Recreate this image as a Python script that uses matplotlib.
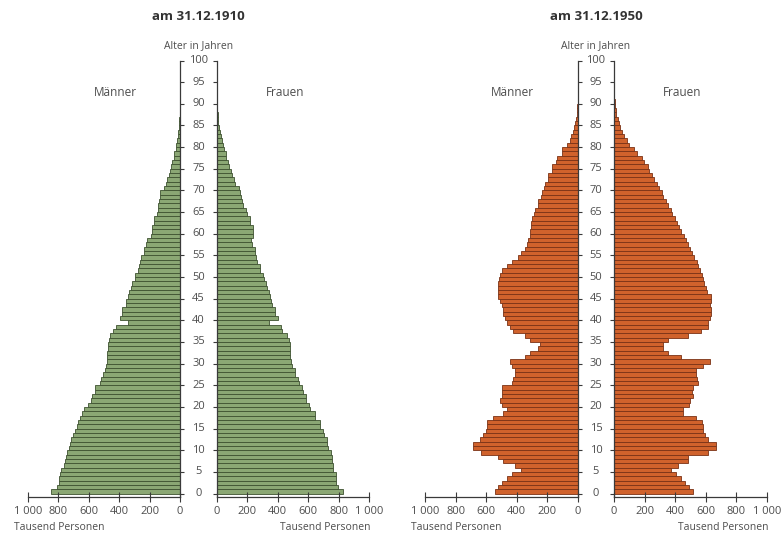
import matplotlib
matplotlib.use("Agg")
import matplotlib.pyplot as plt
import numpy as np

plt.rcParams['font.family'] = ['Open Sans', 'DejaVu Sans']

# Alter 0..100, Tausend Personen
ages = np.arange(0, 101)

m1910 = [850, 810, 798, 795, 790, 780, 762, 757, 752, 745,
         728, 724, 720, 702, 690, 678, 672, 655, 648, 632,
         603, 585, 578, 562, 556, 528, 522, 509, 495, 490,
         480, 478, 478, 476, 474, 466, 462, 440, 420, 340,
         395, 384, 380, 358, 352, 342, 338, 320, 316, 298,
         294, 276, 272, 261, 256, 240, 234, 222, 216, 190,
         186, 182, 172, 168, 152, 148, 143, 140, 133, 130,
         105, 92, 86, 72, 68, 56, 52, 41, 37, 28,
         24, 18, 14, 10, 7.5, 5.5, 4, 3, 2, 1.5,
         1, 0.6, 0.4, 0.3, 0.2, 0.1, 0.1, 0, 0, 0, 0]

f1910 = [827, 798, 786, 783, 780, 766, 762, 756, 754, 750,
         728, 726, 722, 702, 698, 680, 676, 648, 642, 614,
         608, 588, 584, 566, 560, 537, 532, 515, 510, 493,
         488, 482, 480, 480, 478, 476, 458, 428, 422, 345,
         404, 384, 380, 362, 358, 346, 342, 328, 325, 307,
         302, 285, 280, 263, 258, 252, 248, 230, 226, 236,
         240, 236, 218, 214, 196, 192, 170, 166, 157, 154,
         147, 120, 115, 97, 94, 76, 73, 60, 56, 43,
         40, 32, 24, 18, 13, 9, 6.5, 4.5, 3, 2,
         1.3, 0.9, 0.6, 0.4, 0.3, 0.2, 0.1, 0.1, 0, 0, 0]

m1950 = [544, 526, 496, 467, 434, 373, 412, 489, 522, 632,
         687, 687, 643, 621, 600, 598, 596, 555, 489, 467,
         496, 511, 498, 496, 494, 434, 423, 412, 412, 434,
         445, 347, 314, 259, 248, 314, 347, 423, 445, 467,
         478, 489, 489, 500, 511, 522, 524, 524, 522, 514,
         511, 496, 467, 434, 391, 370, 345, 332, 328, 316,
         314, 306, 304, 302, 286, 284, 263, 260, 241, 238,
         221, 218, 197, 194, 173, 170, 141, 138, 106, 102,
         70, 55, 44, 34, 26, 19, 13, 9, 6, 4,
         3, 2, 1.5, 1, 0.6, 0.4, 0.2, 0.1, 0, 0, 0]

f1950 = [515, 493, 461, 439, 406, 373, 417, 482, 486, 614,
         669, 665, 614, 592, 584, 581, 578, 537, 450, 452,
         493, 495, 515, 512, 515, 548, 545, 537, 535, 581,
         625, 439, 351, 318, 318, 351, 482, 570, 614, 614,
         625, 636, 636, 630, 636, 634, 610, 600, 590, 582,
         575, 565, 548, 540, 520, 510, 495, 485, 468, 458,
         438, 428, 410, 400, 380, 370, 350, 340, 322, 312,
         292, 282, 262, 250, 232, 222, 195, 180, 150, 130,
         100, 82, 66, 52, 40, 31, 23, 16, 11, 7.5,
         5, 3.2, 2.2, 1.4, 0.9, 0.5, 0.3, 0.2, 0.1, 0, 0]

xticks = [0, 200, 400, 600, 800, 1000]
xticklabels = ['0', '200', '400', '600', '800', '1 000']
yticks = np.arange(0, 101, 5)

W, H = 783, 533
fig = plt.figure(figsize=(W / 100, H / 100), dpi=100)

txt = '#4d4d4d'
axc = '#3a3a3a'
y_bot, y_top = 497, 60.5   # pixel rows of age -0.8 and 100


def px_axes(x0, x1):
    return fig.add_axes([x0 / W, 1 - y_bot / H, (x1 - x0) / W, (y_bot - y_top) / H])


def side(ax, vals, fc, ec, male):
    ax.barh(ages, vals, height=1.0, align='edge', color=fc, edgecolor=ec, linewidth=0.6)
    ax.set_ylim(-0.8, 100)
    ax.set_facecolor('none')
    if male:
        ax.set_xlim(1000, 0)
        ax.spines['left'].set_visible(False)
        ax.yaxis.tick_right()
    else:
        ax.set_xlim(0, 1000)
        ax.spines['right'].set_visible(False)
        ax.yaxis.tick_left()
    ax.spines['top'].set_visible(False)
    for s in ('bottom', 'left', 'right'):
        ax.spines[s].set_color(axc)
        ax.spines[s].set_linewidth(0.9)
    ax.spines['left' if not male else 'right'].set_bounds(-0.8, 100)
    ax.set_yticks(yticks)
    ax.set_yticklabels([])
    ax.tick_params(axis='y', direction='out', length=3, width=0.8, color=axc)
    ax.set_xticks(xticks)
    ax.set_xticklabels(xticklabels)
    ax.tick_params(axis='x', direction='inout', length=7, width=0.8, color=axc,
                   labelsize=8, labelcolor=txt, pad=3)


def pyramid(xm0, xm1, xf0, xf1, m, f, fc, ec, title):
    axm = px_axes(xm0, xm1)
    axf = px_axes(xf0, xf1)
    side(axm, m, fc, ec, True)
    side(axf, f, fc, ec, False)
    cx = (xm1 + xf0) / 2
    # Alterslabels mittig zwischen beiden Achsen
    xa = (cx - xm0) / (xm1 - xm0)
    for t in yticks:
        axm.text(xa, t, str(t), transform=axm.get_yaxis_transform(), ha='center',
                 va='center', fontsize=8, color=txt, clip_on=False)
    fig.text(cx / W, 1 - 17 / H, title, ha='center', va='center', fontsize=9.5,
             fontweight='bold', color='#333333')
    fig.text(cx / W, 1 - 46 / H, 'Alter in Jahren', ha='center', va='center',
             fontsize=7.5, color=txt)
    fig.text((xm0 + 87) / W, 1 - 92 / H, 'Männer', ha='center', va='center',
             fontsize=8.5, color=txt)
    fig.text((xf0 + 68) / W, 1 - 92 / H, 'Frauen', ha='center', va='center',
             fontsize=8.5, color=txt)
    fig.text((xm0 - 14) / W, 1 - 528 / H, 'Tausend Personen', ha='left', va='center',
             fontsize=7.5, color=txt)
    fig.text((xf1 + 2) / W, 1 - 528 / H, 'Tausend Personen', ha='right', va='center',
             fontsize=7.5, color=txt)


pyramid(28, 180, 217, 369, m1910, f1910, '#8ba774', '#3e5230', 'am 31.12.1910')
pyramid(425, 578, 614, 767, m1950, f1950, '#d0622c', '#7a3216', 'am 31.12.1950')

fig.savefig('out.png', dpi=100, facecolor='white')
